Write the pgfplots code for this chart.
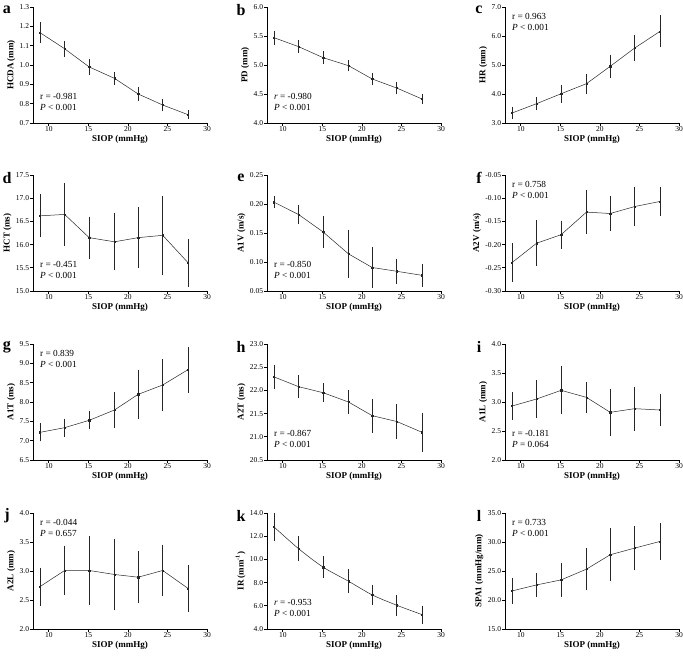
\documentclass[border=0pt]{standalone}
\usepackage{fontspec}
\setmainfont{Liberation Serif}
\usepackage{pgfplots}
\usepackage{pgfplotstable}
\pgfplotsset{compat=1.18}

\pgfplotstableread{
x y e
8.9 1.167 0.045
12.0 1.084 0.033
15.1 0.990 0.033
18.3 0.931 0.024
21.3 0.850 0.028
24.4 0.793 0.024
27.6 0.743 0.015
}\tA
\pgfplotstableread{
x y e
8.9 5.470 0.090
12.0 5.316 0.083
15.1 5.126 0.080
18.3 4.989 0.066
21.3 4.759 0.075
24.4 4.603 0.080
27.6 4.414 0.060
}\tB
\pgfplotstableread{
x y e
8.9 3.345 0.155
12.0 3.667 0.178
15.1 4.010 0.250
18.3 4.356 0.290
21.3 4.954 0.345
24.4 5.586 0.400
27.6 6.160 0.500
}\tC
\pgfplotstableread{
x y e
8.9 16.62 0.43
12.0 16.65 0.64
15.1 16.15 0.42
18.3 16.06 0.58
21.3 16.15 0.62
24.4 16.20 0.81
27.6 15.61 0.48
}\tD
\pgfplotstableread{
x y e
8.9 0.2030 0.0075
12.0 0.1818 0.0140
15.1 0.1517 0.0250
18.3 0.1140 0.0390
21.3 0.0905 0.0330
24.4 0.0840 0.0190
27.6 0.0770 0.0170
}\tE
\pgfplotstableread{
x y e
8.9 -0.2386 0.038
12.0 -0.1970 0.046
15.1 -0.1786 0.027
18.3 -0.1300 0.044
21.3 -0.1330 0.034
24.4 -0.1180 0.038
27.6 -0.1070 0.027
}\tF
\pgfplotstableread{
x y e
8.9 7.216 0.19
12.0 7.336 0.19
15.1 7.526 0.19
18.3 7.793 0.42
21.3 8.198 0.60
24.4 8.440 0.63
27.6 8.836 0.55
}\tG
\pgfplotstableread{
x y e
8.9 22.290 0.226
12.0 22.080 0.210
15.1 21.950 0.165
18.3 21.750 0.215
21.3 21.455 0.330
24.4 21.330 0.340
27.6 21.096 0.385
}\tH
\pgfplotstableread{
x y e
8.9 2.931 0.218
12.0 3.052 0.296
15.1 3.201 0.388
18.3 3.080 0.240
21.3 2.822 0.374
24.4 2.885 0.353
27.6 2.862 0.253
}\tI
\pgfplotstableread{
x y e
8.9 2.732 0.300
12.0 3.009 0.400
15.1 3.009 0.560
18.3 2.940 0.590
21.3 2.893 0.420
24.4 3.009 0.420
27.6 2.700 0.375
}\tJ
\pgfplotstableread{
x y e
8.9 12.79 1.08
12.0 10.92 0.92
15.1 9.33 0.79
18.3 8.12 0.89
21.3 6.94 0.75
24.4 6.05 0.76
27.6 5.24 0.63
}\tK
\pgfplotstableread{
x y e
8.9 21.57 1.99
12.0 22.60 1.84
15.1 23.47 2.68
18.3 25.32 3.40
21.3 27.80 4.27
24.4 28.95 3.57
27.6 30.10 2.94
}\tL

\pgfplotsset{
  pan/.style={
    scale only axis, width=174pt, height=116pt, anchor=south west,
    xmin=8, xmax=30, xtick={10,15,20,25,30},
    axis x line*=bottom, axis y line*=left,
    axis line style={line width=0.7pt, black},
    tick align=outside, major tick length=2.7pt,
    tick style={line width=0.7pt, black},
    clip=false,
    /pgf/number format/assume math mode=true,
    ticklabel style={font=\fontsize{7.5}{8}\selectfont, inner sep=1pt},
    label style={font=\bfseries\fontsize{9}{10}\selectfont},
    xlabel={SIOP (mmHg)},
    xlabel style={yshift=1pt},
    yticklabel style={/pgf/number format/.cd, fixed, fixed zerofill, precision=1},
  },
  p2/.style={yticklabel style={/pgf/number format/.cd, fixed, fixed zerofill, precision=2}},
  ser/.style={black!85, line width=0.5pt, mark=square*, mark size=0.6pt,
    error bars/y dir=both, error bars/y explicit,
    error bars/error bar style={line width=0.5pt, black!85},
    error bars/error mark options={line width=0.5pt, mark size=1.6pt, black!85}},
}
\newcommand{\statfont}{\fontsize{9.3}{10}\selectfont}
\newcommand{\lett}[1]{\node[font=\bfseries\fontsize{16}{16}\selectfont] at (rel axis cs:0,1) [xshift=-26pt, yshift=-3pt] {#1};}
\newcommand{\statBL}[2]{\node[anchor=west, font=\statfont, inner sep=0pt] at (rel axis cs:0.04,0.225) {#1};
  \node[anchor=west, font=\statfont, inner sep=0pt] at (rel axis cs:0.04,0.13) {#2};}
\newcommand{\statTL}[2]{\node[anchor=west, font=\statfont, inner sep=0pt] at (rel axis cs:0.04,0.922) {#1};
  \node[anchor=west, font=\statfont, inner sep=0pt] at (rel axis cs:0.04,0.825) {#2};}

\begin{document}
\begin{tikzpicture}
\useasboundingbox (0,0) rectangle (683pt,659pt);
% row 1
\begin{axis}[pan, at={(33pt,536pt)}, ymin=0.7, ymax=1.3, ytick={0.7,0.8,0.9,1.0,1.1,1.2,1.3}, ylabel={HCDA (mm)}]
\addplot[ser] table[x=x, y=y, y error=e] {\tA};
\statBL{r = -0.981}{\textit{P} < 0.001}
\lett{a}
\end{axis}
\begin{axis}[pan, at={(267pt,536pt)}, ymin=4, ymax=6, ytick={4,4.5,5,5.5,6}, ylabel={PD (mm)}]
\addplot[ser] table[x=x, y=y, y error=e] {\tB};
\statBL{\textit{r} = -0.980}{\textit{P} < 0.001}
\lett{b}
\end{axis}
\begin{axis}[pan, at={(505pt,536pt)}, ymin=3, ymax=7, ytick={3,4,5,6,7}, ylabel={HR (mm)}]
\addplot[ser] table[x=x, y=y, y error=e] {\tC};
\statTL{r = 0.963}{\textit{P} < 0.001}
\lett{c}
\end{axis}
% row 2
\begin{axis}[pan, at={(33pt,368pt)}, ymin=15, ymax=17.5, ytick={15,15.5,16,16.5,17,17.5}, ylabel={HCT (ms)}]
\addplot[ser] table[x=x, y=y, y error=e] {\tD};
\statBL{r = -0.451}{\textit{P} < 0.001}
\lett{d}
\end{axis}
\begin{axis}[pan, p2, at={(267pt,368pt)}, ymin=0.05, ymax=0.25, ytick={0.05,0.10,0.15,0.20,0.25}, ylabel={A1V (m/s)}]
\addplot[ser] table[x=x, y=y, y error=e] {\tE};
\statBL{r = -0.850}{\textit{P} < 0.001}
\lett{e}
\end{axis}
\begin{axis}[pan, p2, at={(505pt,368pt)}, ymin=-0.30, ymax=-0.05, ytick={-0.30,-0.25,-0.20,-0.15,-0.10,-0.05}, ylabel={A2V (m/s)}]
\addplot[ser] table[x=x, y=y, y error=e] {\tF};
\statTL{r = 0.758}{\textit{P} < 0.001}
\lett{f}
\end{axis}
% row 3
\begin{axis}[pan, at={(33pt,199pt)}, ymin=6.5, ymax=9.5, ytick={6.5,7,7.5,8,8.5,9,9.5}, ylabel={A1T (ms)}]
\addplot[ser] table[x=x, y=y, y error=e] {\tG};
\statTL{r = 0.839}{\textit{P} < 0.001}
\lett{g}
\end{axis}
\begin{axis}[pan, at={(267pt,199pt)}, ymin=20.5, ymax=23, ytick={20.5,21,21.5,22,22.5,23}, ylabel={A2T (ms)}]
\addplot[ser] table[x=x, y=y, y error=e] {\tH};
\statBL{r = -0.867}{\textit{P} < 0.001}
\lett{h}
\end{axis}
\begin{axis}[pan, at={(505pt,199pt)}, ymin=2, ymax=4, ytick={2,2.5,3,3.5,4}, ylabel={A1L (mm)}]
\addplot[ser] table[x=x, y=y, y error=e] {\tI};
\statBL{r = -0.181}{\textit{P} = 0.064}
\lett{i}
\end{axis}
% row 4
\begin{axis}[pan, at={(33pt,30pt)}, ymin=2, ymax=4, ytick={2,2.5,3,3.5,4}, ylabel={A2L (mm)}]
\addplot[ser] table[x=x, y=y, y error=e] {\tJ};
\statTL{r = -0.044}{\textit{P} = 0.657}
\lett{j}
\end{axis}
\begin{axis}[pan, at={(267pt,30pt)}, ymin=4, ymax=14, ytick={4,6,8,10,12,14}, ylabel={IR (mm\textsuperscript{-1})}]
\addplot[smooth, ser] table[x=x, y=y, y error=e] {\tK};
\statBL{\textit{r} = -0.953}{\textit{P} < 0.001}
\lett{k}
\end{axis}
\begin{axis}[pan, at={(505pt,30pt)}, ymin=15, ymax=35, ytick={15,20,25,30,35}, ylabel={SPA1 (mmHg/mm)}]
\addplot[ser] table[x=x, y=y, y error=e] {\tL};
\statTL{r = 0.733}{\textit{P} < 0.001}
\lett{l}
\end{axis}
\end{tikzpicture}
\end{document}
